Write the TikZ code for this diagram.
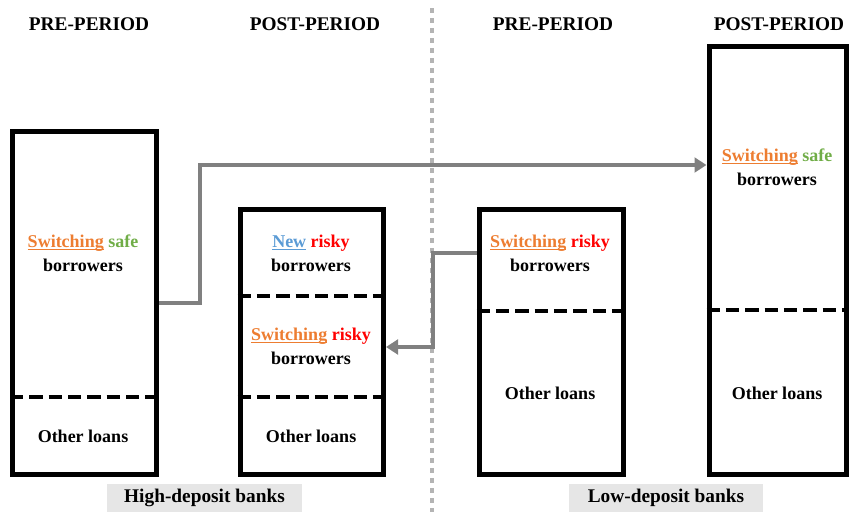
\documentclass[tikz,border=0pt]{standalone}
\usepackage{fontspec}
\setmainfont{Liberation Serif}
\usetikzlibrary{arrows.meta,fit}

\definecolor{swcol}{HTML}{ED7D31}
\definecolor{safecol}{HTML}{70AD47}
\definecolor{riskcol}{HTML}{FF0000}
\definecolor{newcol}{HTML}{5B9BD5}
\definecolor{flowgray}{HTML}{808080}
\definecolor{dotgray}{HTML}{B4B4B4}
\definecolor{labelgray}{HTML}{E6E6E6}

\newcommand{\lineword}[1]{\setbox0\hbox{#1}\rlap{\rule[-2pt]{\wd0}{0.6pt}}\box0}
\newcommand{\swword}{\textcolor{swcol}{\lineword{Switching}}}

\begin{document}
\begin{tikzpicture}[x=0.75pt, y=-0.75pt,
  bankbox/.style={draw, line width=3.75pt, inner sep=0pt},
  divider/.style={line width=3pt, dash pattern=on 10pt off 4.5pt},
  flow/.style={draw=flowgray, line width=3pt, -{Triangle[length=9pt,width=11pt]}},
  header/.style={font=\rmfamily\bfseries\fontsize{14.5}{17}\selectfont},
  share/.style={font=\rmfamily\bfseries\fontsize{13.5}{18}\selectfont, align=center},
  banklabel/.style={fill=labelgray, inner sep=0pt, minimum height=21pt,
    font=\rmfamily\bfseries\fontsize{14.5}{17}\selectfont}]
  \useasboundingbox (0,0) rectangle (850,512);

  % separator
  \draw[dotgray, line width=3.5pt, dash pattern=on 3.5pt off 4pt] (432,8) -- (432,512);

  % headers
  \node[header] (hpreh) at (89,24) {PRE-PERIOD};
  \node[header] (hposth) at (315,24) {POST-PERIOD};
  \node[header] (lpreh) at (553,24) {PRE-PERIOD};
  \node[header] (lposth) at (779,24) {POST-PERIOD};

  % bank balance sheets
  \node[bankbox, fit={(12.5,131.5) (156.5,474.5)}] (hpre) {};
  \node[bankbox, fit={(240,209.5) (383.5,474.5)}] (hpost) {};
  \node[bankbox, fit={(479,209.5) (623.5,474.5)}] (lpre) {};
  \node[bankbox, fit={(709,46.5) (846,474.5)}] (lpost) {};

  \draw[divider] (hpre.west |- 0,397) -- (hpre.east |- 0,397);
  \draw[divider] (hpost.west |- 0,296) -- (hpost.east |- 0,296);
  \draw[divider] (hpost.west |- 0,397) -- (hpost.east |- 0,397);
  \draw[divider] (lpre.west |- 0,311) -- (lpre.east |- 0,311);
  \draw[divider] (lpost.west |- 0,310) -- (lpost.east |- 0,310);

  % contents
  \node[share] (hsafe) at (83,253) {\swword{} \textcolor{safecol}{safe}\\borrowers};
  \node[share] (hother) at (83,436) {Other loans};
  \node[share] (hnew) at (311,253) {\textcolor{newcol}{\lineword{New}} \textcolor{riskcol}{risky}\\borrowers};
  \node[share] (hrisky) at (311,346) {\swword{} \textcolor{riskcol}{risky}\\borrowers};
  \node[share] (hpother) at (311,436) {Other loans};
  \node[share] (lrisky) at (550,253) {\swword{} \textcolor{riskcol}{risky}\\borrowers};
  \node[share] (lother) at (550,393) {Other loans};
  \node[share] (lsafe) at (777,167) {\swword{} \textcolor{safecol}{safe}\\borrowers};
  \node[share] (lpother) at (777,393) {Other loans};

  % flows
  \coordinate (safeout) at (hpre.east |- 0,303);
  \coordinate (riskyout) at (lpre.west |- 0,253);
  \draw[flow] (safeout) -- (200,303) -- (200,165) -- (lpost.west |- 0,165);
  \draw[flow] (riskyout) -- (433,253) -- (433,347) -- (hpost.east |- 0,347);

  % bank groups
  \node[banklabel, minimum width=146pt] (hgroup) at (204.5,498) {High-deposit banks};
  \node[banklabel, minimum width=145.5pt] (lgroup) at (666,498) {Low-deposit banks};
\end{tikzpicture}
\end{document}
